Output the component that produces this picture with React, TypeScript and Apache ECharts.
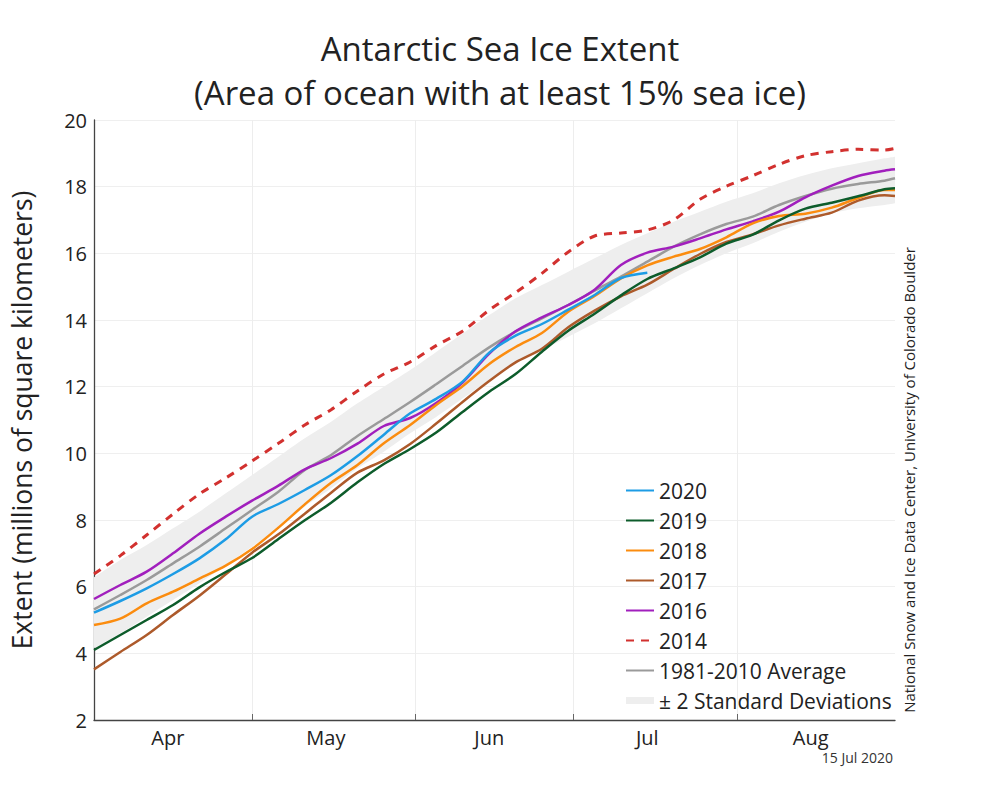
import React, { useEffect, useRef } from "react";
import * as echarts from "echarts";

// Axis structure
const monthNames = ["Apr", "May", "Jun", "Jul", "Aug"];
const monthLengths = [30, 31, 30, 31, 31];
const yMin = 2;
const yMax = 20;
const yStep = 2;

// Sample days (index from 1 Apr)
const days = [0, 5, 10, 15, 20, 25, 30, 35, 40, 45, 50, 55, 60, 65, 70, 75, 80, 85, 90, 95, 100, 105, 110, 115, 120, 125, 130, 135, 140, 145, 150, 152];

// Extent values (millions of km²)
const ext2020 = [5.22, 5.57, 5.95, 6.38, 6.85, 7.42, 8.1, 8.48, 8.9, 9.35, 9.92, 10.56, 11.2, 11.64, 12.16, 13.02, 13.53, 13.88, 14.31, 14.75, 15.26, 15.42];
const ext2019 = [4.1, 4.55, 5.0, 5.45, 5.98, 6.44, 6.86, 7.43, 7.99, 8.52, 9.13, 9.68, 10.13, 10.63, 11.25, 11.85, 12.38, 13.05, 13.68, 14.19, 14.74, 15.23, 15.55, 15.88, 16.29, 16.56, 16.99, 17.34, 17.52, 17.71, 17.92, 17.95];
const ext2018 = [4.85, 5.04, 5.5, 5.85, 6.24, 6.63, 7.13, 7.77, 8.47, 9.12, 9.65, 10.3, 10.85, 11.46, 12.02, 12.68, 13.19, 13.61, 14.25, 14.72, 15.25, 15.64, 15.9, 16.13, 16.48, 16.9, 17.12, 17.19, 17.37, 17.66, 17.9, 17.9];
const ext2017 = [3.52, 4.04, 4.55, 5.15, 5.73, 6.37, 7.02, 7.57, 8.19, 8.82, 9.42, 9.79, 10.28, 10.9, 11.55, 12.17, 12.73, 13.14, 13.78, 14.28, 14.71, 15.06, 15.53, 15.98, 16.34, 16.57, 16.84, 17.04, 17.22, 17.58, 17.74, 17.72];
const ext2016 = [5.63, 6.05, 6.45, 7.0, 7.59, 8.1, 8.58, 9.03, 9.52, 9.86, 10.29, 10.82, 11.06, 11.52, 12.13, 12.99, 13.66, 14.08, 14.45, 14.91, 15.65, 16.02, 16.2, 16.45, 16.72, 16.96, 17.25, 17.68, 18.03, 18.32, 18.48, 18.52];
const ext2014 = [6.38, 6.93, 7.55, 8.18, 8.78, 9.26, 9.77, 10.3, 10.85, 11.31, 11.87, 12.38, 12.74, 13.24, 13.67, 14.3, 14.82, 15.4, 16.04, 16.52, 16.61, 16.7, 17.0, 17.62, 18.01, 18.33, 18.67, 18.93, 19.05, 19.12, 19.1, 19.15];
const extAverage = [5.32, 5.75, 6.2, 6.7, 7.2, 7.75, 8.3, 8.85, 9.5, 9.95, 10.52, 11.03, 11.54, 12.08, 12.63, 13.18, 13.65, 14.05, 14.45, 14.88, 15.3, 15.75, 16.2, 16.57, 16.88, 17.1, 17.45, 17.72, 17.94, 18.08, 18.18, 18.25];
const bandUpper = [6.28, 6.8, 7.25, 7.75, 8.25, 8.8, 9.35, 9.9, 10.45, 10.95, 11.5, 12.0, 12.5, 13.05, 13.6, 14.15, 14.65, 15.05, 15.45, 15.85, 16.25, 16.6, 16.95, 17.25, 17.55, 17.8, 18.1, 18.35, 18.55, 18.7, 18.85, 18.9];
const bandLower = [4.15, 4.6, 5.1, 5.6, 6.1, 6.65, 7.2, 7.75, 8.4, 8.95, 9.55, 10.05, 10.6, 11.1, 11.65, 12.2, 12.7, 13.1, 13.5, 13.9, 14.35, 14.8, 15.25, 15.65, 16.0, 16.3, 16.65, 16.95, 17.2, 17.35, 17.45, 17.5];

const FONT = "'Open Sans', 'Noto Sans', sans-serif";

export default function App() {
  const ref = useRef<HTMLDivElement>(null);

  useEffect(() => {
    document.body.style.margin = "0";
    const chart = echarts.init(ref.current!, null, { renderer: "svg" });

    const categories: string[] = [];
    const monthStart = new Set<number>();
    const midMonth = new Set<number>();
    let idx = 0;
    monthNames.forEach((m, i) => {
      for (let d = 1; d <= monthLengths[i]; d++) {
        categories.push(`${d} ${m}`);
        if (d === 1) monthStart.add(idx);
        if (d === 15) midMonth.add(idx);
        idx++;
      }
    });

    const pairs = (vals: number[]) => vals.map((v, i) => [days[i], v]);
    const lineSeries = (name: string, vals: number[], color: string, extra: any = {}) => ({
      name,
      type: "line",
      data: pairs(vals),
      smooth: 0.3,
      symbol: "none",
      lineStyle: { color, width: 2.5, ...(extra.lineStyle || {}) },
      itemStyle: { color },
      z: extra.z ?? 3,
    });

    chart.setOption({
      animation: false,
      grid: { left: 94, right: 105, top: 120, bottom: 80, containLabel: false },
      xAxis: {
        type: "category",
        data: categories,
        boundaryGap: false,
        axisLine: { show: true, lineStyle: { color: "#444", width: 1.3 } },
        axisTick: {
          show: true,
          inside: true,
          length: 6,
          interval: (i: number) => monthStart.has(i) && i > 0,
          lineStyle: { color: "#666" },
        },
        axisLabel: {
          interval: (i: number) => midMonth.has(i),
          formatter: (v: string) => v.split(" ")[1],
          fontSize: 20,
          color: "#222",
          fontFamily: FONT,
          margin: 7,
        },
        splitLine: {
          show: true,
          interval: (i: number) => monthStart.has(i),
          lineStyle: { color: "#ededed", width: 1 },
        },
      },
      yAxis: {
        type: "value",
        min: yMin,
        max: yMax,
        interval: yStep,
        name: "Extent (millions of square kilometers)",
        nameLocation: "middle",
        nameGap: 59,
        nameTextStyle: { fontSize: 26.5, color: "#222", fontFamily: FONT },
        axisLine: { show: true, lineStyle: { color: "#444", width: 1.3 } },
        axisTick: { show: false },
        axisLabel: { fontSize: 20, color: "#222", fontFamily: FONT, margin: 7 },
        splitLine: { show: true, lineStyle: { color: "#efefef", width: 1 } },
      },
      legend: {
        orient: "vertical",
        left: 620,
        top: 475,
        itemWidth: 28,
        itemHeight: 14,
        itemGap: 9,
        itemStyle: { opacity: 0 },
        textStyle: { fontSize: 21, color: "#222", fontFamily: FONT, lineHeight: 21 },
        data: [
          "2020",
          "2019",
          "2018",
          "2017",
          "2016",
          "2014",
          "1981-2010 Average",
          {
            name: "± 2 Standard Deviations",
            icon: "path://M0,0 L0.01,0 L0.01,14 Z M0,3.5 H28 V10.5 H0 Z",
            itemStyle: { color: "#eeeeee", opacity: 1 },
          },
        ],
      },
      series: [
        {
          name: "bandBase",
          type: "line",
          stack: "band",
          data: pairs(bandLower),
          smooth: 0.3,
          symbol: "none",
          lineStyle: { width: 0, opacity: 0 },
          silent: true,
          z: 1,
        },
        {
          name: "± 2 Standard Deviations",
          type: "line",
          stack: "band",
          data: bandUpper.map((u, i) => [days[i], +(u - bandLower[i]).toFixed(3)]),
          smooth: 0.3,
          symbol: "none",
          lineStyle: { width: 0, opacity: 0 },
          areaStyle: { color: "#eeeeee", opacity: 1 },
          itemStyle: { color: "#eeeeee" },
          silent: true,
          z: 1,
        },
        lineSeries("1981-2010 Average", extAverage, "#9a9a9a", { z: 2 }),
        lineSeries("2014", ext2014, "#d2312f", { lineStyle: { type: [8, 7], width: 3 } }),
        lineSeries("2016", ext2016, "#a11fbd"),
        lineSeries("2017", ext2017, "#ad5a2b"),
        lineSeries("2018", ext2018, "#fb8c0f"),
        lineSeries("2019", ext2019, "#0d5c2b"),
        lineSeries("2020", ext2020, "#1d9ce5", { z: 4 }),
      ],
      graphic: [
        {
          type: "text",
          x: 500,
          y: 48,
          style: {
            text: "Antarctic Sea Ice Extent",
            fontSize: 33,
            fontFamily: FONT,
            fill: "#222",
            textAlign: "center",
            textVerticalAlign: "middle",
          },
        },
        {
          type: "text",
          x: 500,
          y: 92,
          style: {
            text: "(Area of ocean with at least 15% sea ice)",
            fontSize: 33,
            fontFamily: FONT,
            fill: "#222",
            textAlign: "center",
            textVerticalAlign: "middle",
          },
        },
        {
          type: "text",
          x: 909,
          y: 480,
          rotation: Math.PI / 2,
          style: {
            text: "National Snow and Ice Data Center, University of Colorado Boulder",
            fontSize: 15,
            fontFamily: FONT,
            fill: "#222",
            textAlign: "center",
            textVerticalAlign: "middle",
          },
        },
        {
          type: "text",
          x: 893,
          y: 757,
          style: {
            text: "15 Jul 2020",
            fontSize: 14,
            fontFamily: FONT,
            fill: "#333",
            textAlign: "right",
            textVerticalAlign: "middle",
          },
        },
      ],
    });

    return () => chart.dispose();
  }, []);

  return <div ref={ref} style={{ width: 1000, height: 800 }} />;
}
